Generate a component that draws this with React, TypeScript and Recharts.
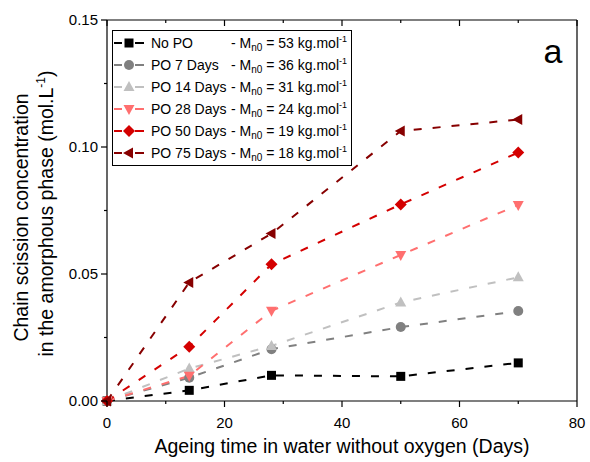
import React from 'react'
import { LineChart, Line, XAxis, YAxis, Legend, Customized } from 'recharts'

// ageing time (days) and chain scission concentration (mol/L) per series
const DAYS = [0, 14, 28, 50, 70]
const NO_PO = [0, 0.0042, 0.0101, 0.0097, 0.015]
const PO_7 = [0, 0.0092, 0.0204, 0.0291, 0.0354]
const PO_14 = [0, 0.0128, 0.0217, 0.0388, 0.0487]
const PO_28 = [0, 0.0099, 0.0355, 0.0575, 0.0772]
const PO_50 = [0, 0.0214, 0.0538, 0.0774, 0.0978]
const PO_75 = [0, 0.0467, 0.0659, 0.1063, 0.1108]

const X_TICKS = [0, 10, 20, 30, 40, 50, 60, 70, 80]
const X_MAJOR = [0, 20, 40, 60, 80]
const Y_TICKS = [0, 0.025, 0.05, 0.075, 0.1, 0.125, 0.15]
const Y_MAJOR = [0, 0.05, 0.1, 0.15]

const FONT = '"Liberation Sans", Arial, sans-serif'

type Shape = 'square' | 'circle' | 'up' | 'down' | 'diamond' | 'left'

const SERIES: { key: string; name: string; mn0: number; color: string; shape: Shape; values: number[] }[] = [
  { key: 'noPo', name: 'No PO', mn0: 53, color: '#000000', shape: 'square', values: NO_PO },
  { key: 'po7', name: 'PO 7 Days', mn0: 36, color: '#808080', shape: 'circle', values: PO_7 },
  { key: 'po14', name: 'PO 14 Days', mn0: 31, color: '#C0C0C0', shape: 'up', values: PO_14 },
  { key: 'po28', name: 'PO 28 Days', mn0: 24, color: '#FF6F6F', shape: 'down', values: PO_28 },
  { key: 'po50', name: 'PO 50 Days', mn0: 19, color: '#D40000', shape: 'diamond', values: PO_50 },
  { key: 'po75', name: 'PO 75 Days', mn0: 18, color: '#870000', shape: 'left', values: PO_75 },
]

const data = DAYS.map((d, i) => {
  const row: Record<string, number> = { day: d }
  SERIES.forEach(s => { row[s.key] = s.values[i] })
  return row
})

function Marker({ shape, cx, cy, color }: { shape: Shape; cx: number; cy: number; color: string }) {
  switch (shape) {
    case 'square':
      return <rect x={cx - 4.5} y={cy - 4.5} width={9} height={9} fill={color} />
    case 'circle':
      return <circle cx={cx} cy={cy} r={5} fill={color} />
    case 'up':
      return <polygon points={`${cx},${cy - 6} ${cx - 5.5},${cy + 4} ${cx + 5.5},${cy + 4}`} fill={color} />
    case 'down':
      return <polygon points={`${cx},${cy + 6} ${cx - 5.5},${cy - 4} ${cx + 5.5},${cy - 4}`} fill={color} />
    case 'diamond':
      return <polygon points={`${cx},${cy - 6} ${cx + 6},${cy} ${cx},${cy + 6} ${cx - 6},${cy}`} fill={color} />
    default:
      return <polygon points={`${cx - 6},${cy} ${cx + 4},${cy - 5.5} ${cx + 4},${cy + 5.5}`} fill={color} />
  }
}

function BottomTick({ x, y, payload }: any) {
  const major = X_MAJOR.includes(payload.value)
  return (
    <g>
      <line x1={x} x2={x} y1={y} y2={y + (major ? 6 : 3)} stroke="#000" strokeWidth={1.2} />
      {major && (
        <text x={x} y={y + 27} textAnchor="middle" fontSize={15} fontFamily={FONT} fill="#000">
          {payload.value}
        </text>
      )}
    </g>
  )
}

function LeftTick({ x, y, payload }: any) {
  const major = Y_MAJOR.includes(payload.value)
  return (
    <g>
      <line x1={x - (major ? 6 : 3)} x2={x} y1={y} y2={y} stroke="#000" strokeWidth={1.2} />
      {major && (
        <text x={x - 9} y={y} dy="0.36em" textAnchor="end" fontSize={15} fontFamily={FONT} fill="#000">
          {payload.value.toFixed(2)}
        </text>
      )}
    </g>
  )
}

function TopTick({ x, y, payload }: any) {
  const major = X_MAJOR.includes(payload.value)
  return <line x1={x} x2={x} y1={y} y2={y + (major ? 6 : 3)} stroke="#000" strokeWidth={1.2} />
}

function RightTick({ x, y, payload }: any) {
  const major = Y_MAJOR.includes(payload.value)
  return <line x1={x - (major ? 6 : 3)} x2={x} y1={y} y2={y} stroke="#000" strokeWidth={1.2} />
}

function LegendBox() {
  return (
    <div style={{ border: '1px solid #000', background: '#fff', padding: '1px 0', fontFamily: FONT, fontSize: 14, color: '#000', width: 238 }}>
      {SERIES.map(s => (
        <div key={s.key} style={{ display: 'flex', alignItems: 'center', height: 22, whiteSpace: 'nowrap' }}>
          <svg width={38} height={22} style={{ flexShrink: 0 }}>
            <line x1={1} x2={9} y1={11} y2={11} stroke={s.color} strokeWidth={2} />
            <line x1={22} x2={31} y1={11} y2={11} stroke={s.color} strokeWidth={2} />
            <Marker shape={s.shape} cx={16} cy={11} color={s.color} />
          </svg>
          <span style={{ display: 'inline-block', width: 80 }}>{s.name}</span>
          <span>
            - M<span style={{ fontSize: 10, verticalAlign: -3, lineHeight: 0 }}>n0</span> = {s.mn0} kg.mol
            <span style={{ fontSize: 9, verticalAlign: 6, lineHeight: 0 }}>-1</span>
          </span>
        </div>
      ))}
    </div>
  )
}

function YLabel({ viewBox }: any) {
  const cy = viewBox.y + viewBox.height / 2
  const cy1 = cy + 7
  const cy2 = cy + 3
  return (
    <g fontFamily={FONT} fontSize={19.5} fill="#000">
      <text x={28} y={cy1} textAnchor="middle" transform={`rotate(-90, 28, ${cy1})`}>
        Chain scission concentration
      </text>
      <text x={53} y={cy2} textAnchor="middle" transform={`rotate(-90, 53, ${cy2})`}>
        in the amorphous phase (mol.L<tspan fontSize={12} dy={-8}>-1</tspan>
        <tspan dy={8}>)</tspan>
      </text>
    </g>
  )
}

function XLabel({ viewBox }: any) {
  return (
    <text x={viewBox.x + viewBox.width / 2} y={viewBox.y + 52} textAnchor="middle" fontFamily={FONT} fontSize={19.5} fill="#000">
      Ageing time in water without oxygen (Days)
    </text>
  )
}

export default function App() {
  return (
    <div style={{ position: 'absolute', left: 0, top: 0, background: '#fff' }}>
      <LineChart width={590} height={462} data={data} margin={{ top: 19, right: 12, bottom: 0, left: 0 }}>
        <XAxis
          dataKey="day" type="number" domain={[0, 80]} ticks={X_TICKS} interval={0}
          height={61} tickSize={0} tickMargin={0} tickLine={false} tick={<BottomTick />}
          axisLine={{ stroke: '#000', strokeWidth: 1.2 }}
          label={<XLabel />}
        />
        <XAxis
          xAxisId="top" orientation="top" dataKey="day" type="number" domain={[0, 80]} ticks={X_TICKS} interval={0}
          height={1} tickSize={0} tickMargin={0} tickLine={false} tick={<TopTick />}
          axisLine={{ stroke: '#000', strokeWidth: 1.2 }}
        />
        <YAxis
          type="number" domain={[0, 0.15]} ticks={Y_TICKS} interval={0}
          width={107} tickSize={0} tickMargin={0} tickLine={false} tick={<LeftTick />}
          axisLine={{ stroke: '#000', strokeWidth: 1.2 }}
          label={<YLabel />}
        />
        <YAxis
          yAxisId="right" orientation="right" type="number" domain={[0, 0.15]} ticks={Y_TICKS} interval={0}
          width={1} tickSize={0} tickMargin={0} tickLine={false} tick={<RightTick />}
          axisLine={{ stroke: '#000', strokeWidth: 1.2 }}
        />
        {SERIES.map(s => (
          <Line
            key={s.key}
            dataKey={s.key}
            name={s.name}
            type="linear"
            stroke={s.color}
            strokeWidth={2}
            strokeDasharray="8 11"
            isAnimationActive={false}
            dot={(p: any) => <Marker key={`${s.key}-${p.index}`} shape={s.shape} cx={p.cx} cy={p.cy} color={s.color} />}
            activeDot={false}
          />
        ))}
        <Legend
          layout="vertical" align="center" verticalAlign="middle"
          wrapperStyle={{ left: 112, top: 30, width: 240, height: 'auto' }}
          content={() => <LegendBox />}
        />
        <Customized
          component={() => (
            <text x={553} y={63} textAnchor="middle" fontFamily={FONT} fontSize={34} fill="#000">a</text>
          )}
        />
      </LineChart>
    </div>
  )
}
